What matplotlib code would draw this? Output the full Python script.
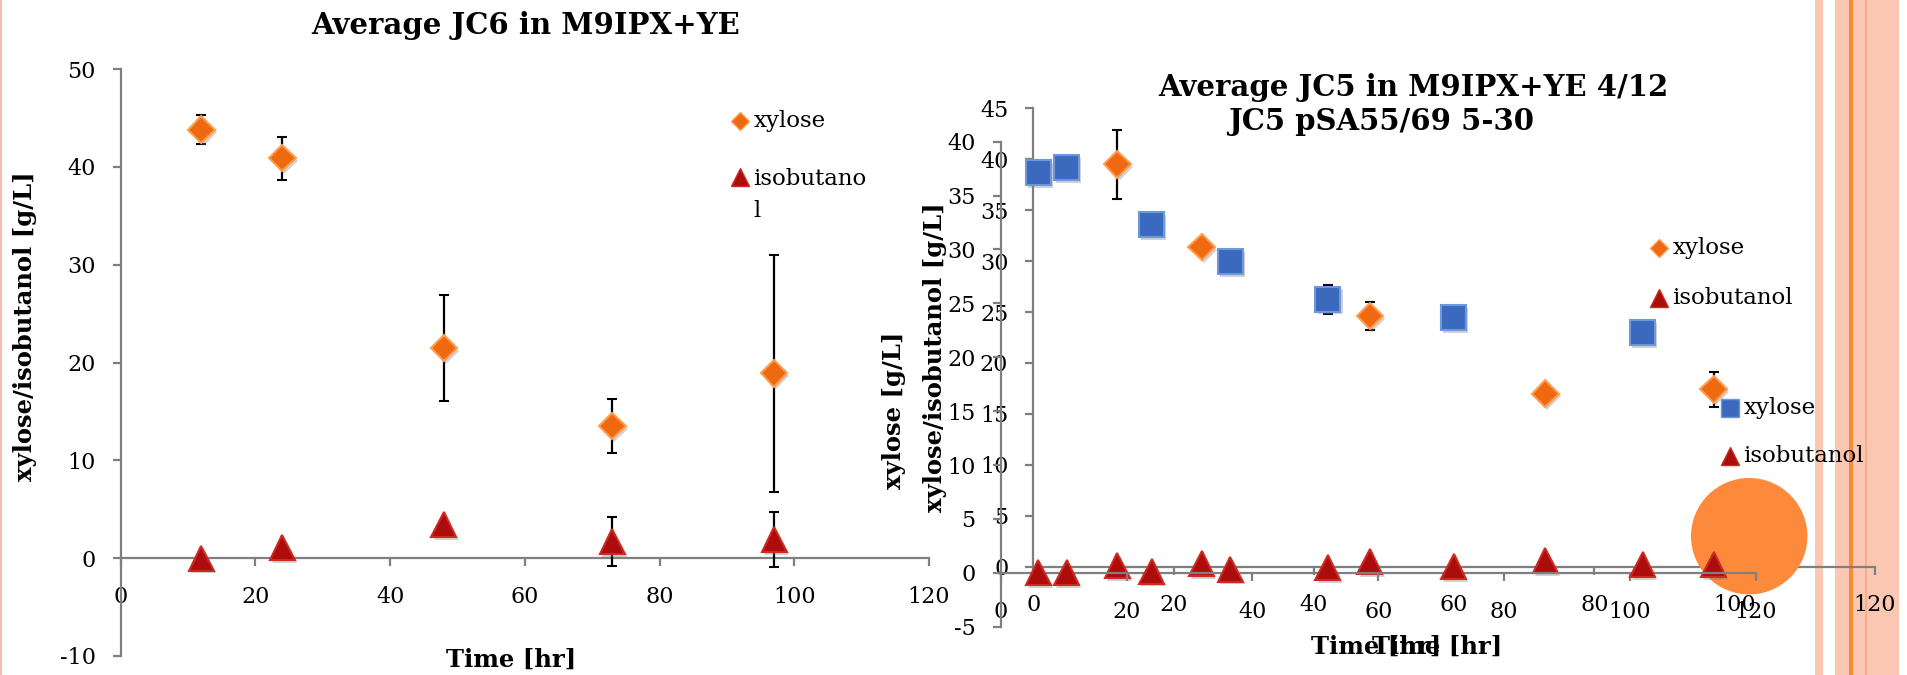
import matplotlib
matplotlib.use('Agg')
import matplotlib.pyplot as plt
import matplotlib.patheffects as pe
from matplotlib.lines import Line2D
from matplotlib.patches import Rectangle, Circle

plt.rcParams['font.family'] = ['DejaVu Serif']
plt.rcParams['axes.unicode_minus'] = False

# Average JC6 in M9IPX+YE
jc6_time = [12, 24, 48, 73, 97]
jc6_xylose = [43.8, 40.9, 21.5, 13.5, 18.9]
jc6_xylose_err = [1.5, 2.2, 5.4, 2.8, 12.1]
jc6_isobutanol = [0.0, 1.1, 3.4, 1.7, 1.9]
jc6_isobutanol_err = [0, 0, 0, 2.5, 2.85]

# Average JC5 in M9IPX+YE 4/12
jc5_time = [12, 24, 48, 73, 97]
jc5_xylose = [39.5, 31.4, 24.6, 17.0, 17.4]
jc5_xylose_err = [3.4, 0, 1.35, 0, 1.75]
jc5_isobutanol = [0.1, 0.3, 0.5, 0.6, 0.2]

# JC5 pSA55/69 5-30
psa_time = [6, 10.5, 24, 36.5, 52, 72, 102]
psa_xylose = [37.1, 37.6, 32.3, 28.9, 25.4, 23.7, 22.3]
psa_xylose_err = [0, 0, 0, 0, 1.35, 0, 0]
psa_isobutanol = [0.05, 0.0, 0.15, 0.35, 0.5, 0.6, 0.75]

x_ticks = [0, 20, 40, 60, 80, 100, 120]

W, H = 1908, 675
AXIS_GREY = '#7f7f7f'
ORANGE, ORANGE_EDGE = '#ef6910', '#ff9d50'
RED, RED_EDGE = '#ad0c0c', '#cc2a22'
BLUE, BLUE_EDGE = '#3b69bd', '#6f98dc'

shadow = [pe.SimplePatchShadow(offset=(1.5, -2), shadow_rgbFace='#808080', alpha=0.35), pe.Normal()]

fig = plt.figure(figsize=(W / 100, H / 100), dpi=100)


def box(left, top, right, bottom):
    # pixel box (from top-left of the slide) -> figure fraction rect
    return [left / W, 1 - bottom / H, (right - left) / W, (bottom - top) / H]


def fx(px):
    return px / W


def fy(py):
    return 1 - py / H


def style_axes(ax, xlim, ylim, yticks):
    ax.set_xlim(*xlim)
    ax.set_ylim(*ylim)
    ax.patch.set_alpha(0)
    for side in ('top', 'right'):
        ax.spines[side].set_visible(False)
    for side in ('left', 'bottom'):
        ax.spines[side].set_color(AXIS_GREY)
        ax.spines[side].set_linewidth(1.6)
    ax.spines['bottom'].set_position(('data', 0))
    ax.set_xticks(x_ticks)
    ax.set_yticks(yticks)
    ax.tick_params(direction='out', length=6, width=1.6, color=AXIS_GREY, labelsize=16)
    ax.tick_params(axis='x', pad=14)
    ax.tick_params(axis='y', pad=12)


def draw_series(ax, x, y, err, marker, face, edge, ms):
    if err is None:
        line, = ax.plot(x, y, ls='none', marker=marker, ms=ms, mfc=face, mec=edge,
                        mew=1.5, clip_on=False, zorder=3)
    else:
        cont = ax.errorbar(x, y, yerr=err, fmt=marker, ms=ms, mfc=face, mec=edge, mew=1.5,
                           ecolor='black', elinewidth=1.6, capsize=3.8, capthick=2.2,
                           clip_on=False, zorder=3)
        line = cont.lines[0]
    line.set_path_effects(shadow)


def legend_entry(x, y, marker, face, edge, ms, label, va='center', text_y=None):
    fig.add_artist(Line2D([fx(x)], [fy(y)], transform=fig.transFigure, ls='none',
                          marker=marker, ms=ms, mfc=face, mec=edge, mew=1))
    fig.text(fx(x + 13.5), fy(y if text_y is None else text_y), label, va=va, ha='left',
             fontsize=16.5, linespacing=1.6)


# ---- left chart ----
ax1 = fig.add_axes(box(120.6, 69, 929, 656))
style_axes(ax1, (0, 120), (-10, 50), [-10, 0, 10, 20, 30, 40, 50])
draw_series(ax1, jc6_time, jc6_xylose, jc6_xylose_err, 'D', ORANGE, ORANGE_EDGE, 13.5)
draw_series(ax1, jc6_time, jc6_isobutanol, jc6_isobutanol_err, '^', RED, RED_EDGE, 18)

fig.text(fx(526), fy(25), 'Average JC6 in M9IPX+YE', ha='center', va='center',
         fontsize=21, fontweight='bold')
fig.text(fx(511.5), fy(660), 'Time [hr]', ha='center', va='center', fontsize=17.5, fontweight='bold')
fig.text(fx(25), fy(326), 'xylose/isobutanol [g/L]', ha='center', va='center', rotation=90,
         fontsize=17.5, fontweight='bold')
legend_entry(739.8, 120.7, 'D', ORANGE, ORANGE_EDGE, 9, 'xylose')
legend_entry(739.8, 176.7, '^', RED, RED_EDGE, 13, 'isobutano\nl', va='top', text_y=168)

# ---- right chart, first layer ----
ax2 = fig.add_axes(box(1033.3, 108.3, 1875, 566.7), zorder=1)
style_axes(ax2, (0, 120), (0, 45), [0, 5, 10, 15, 20, 25, 30, 35, 40, 45])
draw_series(ax2, jc5_time, jc5_xylose, jc5_xylose_err, 'D', ORANGE, ORANGE_EDGE, 13.5)
draw_series(ax2, jc5_time, jc5_isobutanol, None, '^', RED, RED_EDGE, 18)

# slide decoration: orange disc sitting between the two right-hand layers
disc = Circle((1749.2 / 100, (H - 536.2) / 100), 0.575, transform=fig.dpi_scale_trans,
              color='#fd8a3a', clip_on=False, zorder=2.7)
ax2.add_artist(disc)

# ---- right chart, second layer ----
ax3 = fig.add_axes(box(1000.7, 141.7, 1756, 626.7), zorder=2)
style_axes(ax3, (0, 120), (-5, 40), [-5, 0, 5, 10, 15, 20, 25, 30, 35, 40])
draw_series(ax3, psa_time, psa_xylose, psa_xylose_err, 's', BLUE, BLUE_EDGE, 18)
draw_series(ax3, psa_time, psa_isobutanol, None, '^', RED, RED_EDGE, 18)

fig.text(fx(1413), fy(88), 'Average JC5 in M9IPX+YE 4/12', ha='center', va='center',
         fontsize=21, fontweight='bold')
fig.text(fx(1381.6), fy(121.7), 'JC5 pSA55/69 5-30', ha='center', va='center',
         fontsize=21, fontweight='bold')
fig.text(fx(1376), fy(647), 'Time [hr]', ha='center', va='center', fontsize=17.5, fontweight='bold')
fig.text(fx(1437), fy(647), 'Time [hr]', ha='center', va='center', fontsize=17.5, fontweight='bold')
fig.text(fx(894), fy(410), 'xylose [g/L]', ha='center', va='center', rotation=90,
         fontsize=17.5, fontweight='bold')
fig.text(fx(935), fy(357), 'xylose/isobutanol [g/L]', ha='center', va='center', rotation=90,
         fontsize=17.5, fontweight='bold')
legend_entry(1659, 248.3, 'D', ORANGE, ORANGE_EDGE, 9, 'xylose')
legend_entry(1659, 298.3, '^', RED, RED_EDGE, 13, 'isobutanol')
legend_entry(1730, 408.3, 's', BLUE, BLUE_EDGE, 12.5, 'xylose')
legend_entry(1730, 456, '^', RED, RED_EDGE, 13, 'isobutanol')

# ---- slide border stripes ----
PINK = '#fbc7b3'
for left, right, col in [(0, 1.5, '#f6bcad'), (1815, 1822.7, PINK), (1835, 1899, PINK),
                         (1849.5, 1852.7, '#f7893a'), (1865.5, 1866.8, '#f8ad8c')]:
    fig.add_artist(Rectangle((fx(left), 0), (right - left) / W, 1, transform=fig.transFigure,
                             color=col, lw=0, zorder=-1))

fig.savefig('out.png', dpi=100)
